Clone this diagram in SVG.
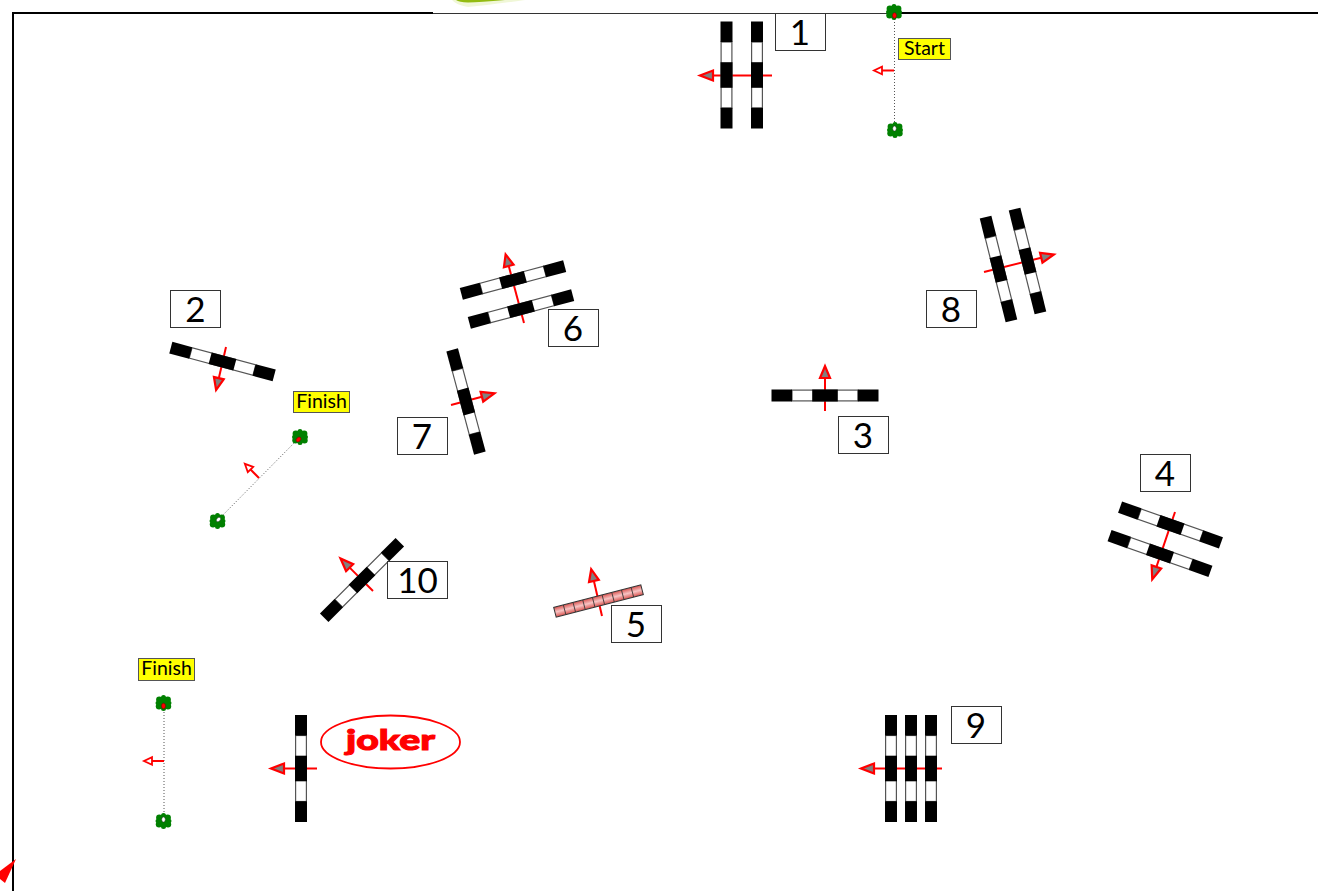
<svg xmlns="http://www.w3.org/2000/svg" width="1318" height="891" viewBox="0 0 1318 891">
<style>
.lb{fill:#fff;stroke:#333;stroke-width:1}
.num{font-family:"Lato","Noto Sans",sans-serif;font-size:35px;fill:#000;text-anchor:middle}
.yl{fill:#ff0;stroke:#555;stroke-width:1}
.yt{font-family:"Lato","Noto Sans",sans-serif;font-size:19.500px;fill:#000;text-anchor:middle}
.ln{stroke:#f00;stroke-width:2;fill:none}
.hd{fill:#808080;stroke:#f00;stroke-width:2.200;stroke-linejoin:miter}
.ohd{fill:#fff;stroke:#f00;stroke-width:1.800}
.dot{stroke:#555;stroke-width:1;stroke-dasharray:1 2;fill:none}
.blk{fill:#000}
.wht{fill:#fff;stroke:#555;stroke-width:1.200}
.t{fill:#008000}
</style>
<defs>
<g id="bar">
<rect class="wht" x="-33" y="-5.400" width="66" height="10.800"/>
<rect class="blk" x="-53.500" y="-6" width="20.500" height="12"/>
<rect class="blk" x="-12.800" y="-6" width="25.600" height="12"/>
<rect class="blk" x="32.800" y="-6" width="20.700" height="12"/>
</g>
<linearGradient id="pk" x1="0" y1="0" x2="0" y2="1">
<stop offset="0" stop-color="#d9534f"/><stop offset=".5" stop-color="#f7c4c4"/><stop offset="1" stop-color="#d9534f"/>
</linearGradient>
<g id="tree">
<circle class="t" cx="0" cy="0" r="6"/><circle class="t" cx="-4.200" cy="-3.200" r="3.200"/><circle class="t" cx="4.200" cy="-3.200" r="3.200"/><circle class="t" cx="-4.500" cy="3.200" r="3.200"/><circle class="t" cx="4.500" cy="3.200" r="3.200"/><circle class="t" cx="0" cy="-5.500" r="2.500"/><circle class="t" cx="0" cy="5.500" r="2.500"/><circle class="t" cx="6" cy="0" r="2"/><circle class="t" cx="-6" cy="0" r="2"/>
</g>
</defs>

<g id="border">
<path d="M13 891V13H433" fill="none" stroke="#000" stroke-width="2"/>
<path d="M433 13.500H894" fill="none" stroke="#333" stroke-width="1"/>
<path d="M894 13H1318" fill="none" stroke="#000" stroke-width="2"/>
<path d="M452 0H525Q490 5 468 7Q456 5 452 0Z" fill="#e6f2bd" opacity=".6"/>
<path d="M456 0H505Q480 2 468 2.500Q459 2 456 0Z" fill="#93bb10"/>
<polygon points="16,859 0,871 0,879 5,883" fill="#f00"/>
</g>

<g id="connectors">
<path class="dot" d="M894.500 13V130"/>
<path class="dot" d="M300 437L217 521"/>
<path class="dot" d="M164 703V820"/>
<g transform="translate(894 70.500) rotate(180)"><path class="ln" d="M0 0H12"/><polygon class="ohd" points="12,-3.800 20,0 12,3.800"/></g>
<g transform="translate(259 478) rotate(-135)"><path class="ln" d="M0 0H12"/><polygon class="ohd" points="12,-3.800 20,0 12,3.800"/></g>
<g transform="translate(164 761) rotate(180)"><path class="ln" d="M0 0H12"/><polygon class="ohd" points="12,-3.800 20,0 12,3.800"/></g>
</g>

<g id="start">
<use href="#tree" x="894" y="12"/><ellipse cx="894.500" cy="15.500" rx="2" ry="2.800" fill="#f00" stroke="#600" stroke-width=".5"/>
<use href="#tree" x="895" y="130"/><ellipse cx="894.500" cy="128.500" rx="1.800" ry="2.600" fill="#fff" stroke="#333" stroke-width=".5"/>
<rect class="yl" x="898.500" y="38.500" width="52" height="21"/><text class="yt" x="924.500" y="55">Start</text>
</g>
<g id="finish-a">
<use href="#tree" x="300" y="437"/><ellipse cx="298.500" cy="439.500" rx="2" ry="2.800" fill="#f00" stroke="#600" stroke-width=".5" transform="rotate(45 298.500 439.500)"/>
<use href="#tree" x="217.500" y="521"/><ellipse cx="218.500" cy="519.500" rx="1.800" ry="2.600" fill="#fff" stroke="#333" stroke-width=".5" transform="rotate(45 218.500 519.500)"/>
<rect class="yl" x="293.500" y="391.500" width="56" height="21"/><text class="yt" x="321.500" y="408">Finish</text>
</g>
<g id="finish-b">
<use href="#tree" x="163.500" y="703"/><ellipse cx="163.500" cy="706" rx="2" ry="2.800" fill="#f00" stroke="#600" stroke-width=".5"/>
<use href="#tree" x="163.500" y="821"/><ellipse cx="163.500" cy="819.500" rx="1.800" ry="2.600" fill="#fff" stroke="#333" stroke-width=".5"/>
<rect class="yl" x="138.500" y="658.500" width="56" height="22"/><text class="yt" x="166.500" y="675">Finish</text>
</g>

<g id="fence-1">
<g transform="translate(772 75.500) rotate(180)"><path class="ln" d="M0 0H60"/><polygon class="hd" points="59,-5 72,0 59,5"/></g>
<use href="#bar" transform="translate(726.500 75) rotate(90)"/><use href="#bar" transform="translate(757 75) rotate(90)"/>
<rect class="lb" x="775.500" y="13.500" width="50" height="37"/><text class="num" x="800" y="45">1</text>
</g>
<g id="fence-2">
<g transform="translate(226 347) rotate(103)"><path class="ln" d="M0 0H33"/><polygon class="hd" points="32,-5 44,0 32,5"/></g>
<use href="#bar" transform="translate(222.500 361.500) rotate(15)"/>
<rect class="lb" x="170.500" y="290.500" width="50" height="37"/><text class="num" x="195.500" y="322">2</text>
</g>
<g id="fence-3">
<g transform="translate(825 411) rotate(-90)"><path class="ln" d="M0 0H33"/><polygon class="hd" points="33,-5 45,0 33,5"/></g>
<use href="#bar" transform="translate(825 395.500)"/>
<rect class="lb" x="838.500" y="416.500" width="50" height="37"/><text class="num" x="863" y="448">3</text>
</g>
<g id="fence-4">
<g transform="translate(1175 512) rotate(108.700)"><path class="ln" d="M0 0H59"/><polygon class="hd" points="58,-5 71,0 58,5"/></g>
<use href="#bar" transform="translate(1170.500 525) rotate(19.500)"/><use href="#bar" transform="translate(1160 553.500) rotate(19.500)"/>
<rect class="lb" x="1140.500" y="454.500" width="50" height="37"/><text class="num" x="1165" y="486">4</text>
</g>
<g id="fence-5">
<g transform="translate(602 616) rotate(-103)"><path class="ln" d="M0 0H37"/><polygon class="hd" points="36,-5 48,0 36,5"/></g>
<g transform="translate(598.500 601) rotate(-14.500)">
<rect x="-45" y="-5" width="90" height="10" fill="url(#pk)" stroke="#333" stroke-width="1"/>
<path d="M-35-5V5M-25-5V5M-15-5V5M-5-5V5M5-5V5M15-5V5M25-5V5M35-5V5" stroke="#333" stroke-width=".8" fill="none"/>
</g>
<rect class="lb" x="611.500" y="605.500" width="50" height="37"/><text class="num" x="636" y="637">5</text>
</g>
<g id="fence-6">
<g transform="translate(524 323) rotate(-105)"><path class="ln" d="M0 0H59"/><polygon class="hd" points="59,-5 71,0 59,5"/></g>
<use href="#bar" transform="translate(513 280) rotate(-15)"/><use href="#bar" transform="translate(521 309) rotate(-15)"/>
<rect class="lb" x="548.500" y="309.500" width="50" height="37"/><text class="num" x="573" y="341">6</text>
</g>
<g id="fence-7">
<g transform="translate(451 405) rotate(-15)"><path class="ln" d="M0 0H33"/><polygon class="hd" points="32,-5 45,0 32,5"/></g>
<use href="#bar" transform="translate(466 401.500) rotate(75)"/>
<rect class="lb" x="397.500" y="417.500" width="50" height="37"/><text class="num" x="422" y="449">7</text>
</g>
<g id="fence-8">
<g transform="translate(984 272) rotate(-14)"><path class="ln" d="M0 0H60"/><polygon class="hd" points="59,-5 72,0 59,5"/></g>
<use href="#bar" transform="translate(998.500 269) rotate(76)"/><use href="#bar" transform="translate(1027.500 261) rotate(76)"/>
<rect class="lb" x="926.500" y="290.500" width="50" height="37"/><text class="num" x="951" y="322">8</text>
</g>
<g id="fence-9">
<g transform="translate(942 768.500) rotate(180)"><path class="ln" d="M0 0H69"/><polygon class="hd" points="68,-5 81,0 68,5"/></g>
<use href="#bar" transform="translate(891 768.500) rotate(90)"/><use href="#bar" transform="translate(911 768.500) rotate(90)"/><use href="#bar" transform="translate(931 768.500) rotate(90)"/>
<rect class="lb" x="951.500" y="706.500" width="50" height="37"/><text class="num" x="976" y="738">9</text>
</g>
<g id="fence-10">
<g transform="translate(373 591) rotate(-135)"><path class="ln" d="M0 0H33"/><polygon class="hd" points="33,-5 46,0 33,5"/></g>
<use href="#bar" transform="translate(362 580) rotate(-45)"/>
<rect class="lb" x="387.500" y="561.500" width="60" height="37"/><text class="num" x="417.500" y="593">10</text>
</g>
<g id="joker">
<g transform="translate(317 768.500) rotate(180)"><path class="ln" d="M0 0H33"/><polygon class="hd" points="33,-5 46,0 33,5"/></g>
<use href="#bar" transform="translate(301 768.500) rotate(90)"/>
<ellipse cx="390.500" cy="742" rx="69.500" ry="26.500" fill="#fff" stroke="#f00" stroke-width="1.800"/>
<text x="346" y="750" font-family="Lato,sans-serif" font-weight="900" font-size="28" fill="#f00" stroke="#f00" stroke-width="1" textLength="89" lengthAdjust="spacingAndGlyphs">joker</text>
</g>
</svg>
